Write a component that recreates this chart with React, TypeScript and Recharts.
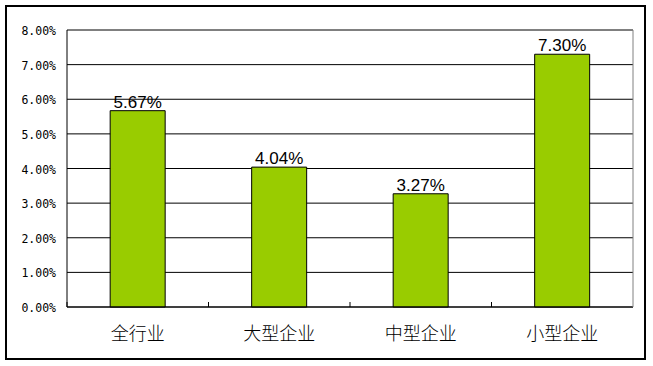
import { BarChart, Bar, XAxis, YAxis, CartesianGrid, ReferenceLine, LabelList } from "recharts";

// 各类企业比率（%）
const categories = ["全行业", "大型企业", "中型企业", "小型企业"];
const rates = [5.67, 4.04, 3.27, 7.3];
const yTicks = [0, 1, 2, 3, 4, 5, 6, 7, 8];

const data = categories.map((name, i) => ({ name, rate: rates[i] }));

const pct = (v: any) => Number(v).toFixed(2) + "%";
const MONO = "'DejaVu Sans Mono', monospace";
const SANS = "'Liberation Sans', Arial, sans-serif";
const CJK = "'Noto Sans CJK SC', sans-serif";

// category label + small inward tick at the left edge of each band
function CatTick(props: any) {
  const { x, y, payload } = props;
  const half = payload?.offset ?? 0;
  const axisY = y - 20;
  return (
    <g>
      {half > 0 && (
        <line x1={x - half} x2={x - half} y1={axisY - 5} y2={axisY} stroke="#000" strokeWidth={1} />
      )}
      <text x={x} y={y} dy={13} textAnchor="middle" fontFamily={CJK} fontSize={18} fontWeight={300} fill="#000">
        {payload.value}
      </text>
    </g>
  );
}

export default function App() {
  return (
    <div style={{ position: "absolute", left: 0, top: 0, width: 653, height: 366, background: "#fff" }}>
      <div
        style={{
          position: "absolute", left: 5, top: 5, width: 641, height: 355,
          border: "2px solid #000", boxSizing: "border-box",
        }}
      />
      <div style={{ position: "absolute", left: 0, top: 0 }}>
        <BarChart
          width={653}
          height={366}
          data={data}
          margin={{ top: 30, right: 19, left: 0, bottom: 0 }}
          barCategoryGap="30.5%"
        >
          <CartesianGrid vertical={false} stroke="#000" strokeWidth={1} />
          <XAxis
            dataKey="name"
            height={59}
            axisLine={{ stroke: "#000" }}
            tickLine={false}
            tickSize={0}
            tickMargin={20}
            interval={0}
            tick={<CatTick />}
          />
          <YAxis
            width={67}
            domain={[0, 8]}
            ticks={yTicks}
            interval={0}
            axisLine={{ stroke: "#000" }}
            tickLine={false}
            tickSize={0}
            tickMargin={11}
            tickFormatter={pct}
            tick={{ fontFamily: MONO, fontSize: 11.5, fill: "#000", dy: 1 }}
          />
          <YAxis
            yAxisId="r"
            orientation="right"
            width={1}
            domain={[0, 8]}
            tick={false}
            tickLine={false}
            axisLine={{ stroke: "#808080" }}
          />
          <ReferenceLine y={8} stroke="#808080" strokeWidth={1} />
          <Bar dataKey="rate" fill="#99CC00" stroke="#000" strokeWidth={1} isAnimationActive={false}>
            <LabelList
              dataKey="rate"
              position="top"
              offset={3}
              formatter={pct}
              style={{ fontFamily: SANS, fontSize: 17, fill: "#000" }}
            />
          </Bar>
        </BarChart>
      </div>
    </div>
  );
}
